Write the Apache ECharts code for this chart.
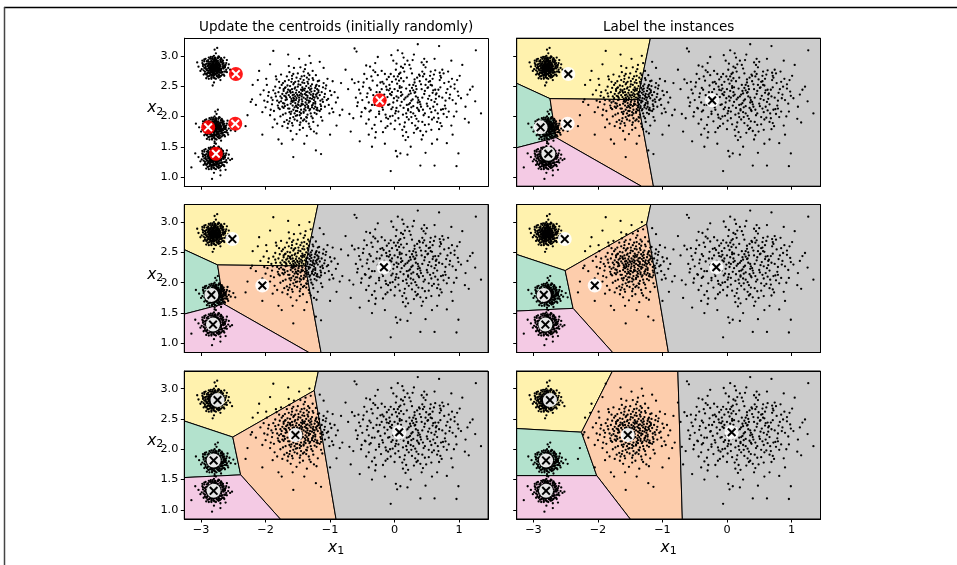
<!DOCTYPE html>
<html><head><meta charset="utf-8">
<script src="https://cdn.jsdelivr.net/npm/echarts@6/dist/echarts.min.js"></script>
<style>html,body{margin:0;padding:0;background:#fff}#c{width:957px;height:565px}</style>
</head><body><div id="c"></div><script>
// ---------------- data ----------------
const xRange = [-3.26, 1.45];
const yRange = [0.85, 3.29];
const xTickValues = [-3, -2, -1, 0, 1];
const yTickValues = [1.0, 1.5, 2.0, 2.5, 3.0];
const panelTitles = ['Update the centroids (initially randomly)', 'Label the instances'];

const blobTopLeft = [[-2.79,2.80],[-2.72,2.85],[-2.86,2.76],[-2.81,2.91],[-2.75,2.71],[-2.90,2.83],[-2.68,2.79],[-2.83,2.69],[-2.77,2.88],[-2.94,2.74],
[-2.70,2.93],[-2.85,2.84],[-2.78,2.75],[-2.63,2.82],[-2.88,2.97],[-2.74,2.66],[-2.82,2.79],[-2.97,2.86],[-2.69,2.72],[-2.80,3.00],
[-2.76,2.82],[-2.91,2.70],[-2.73,2.89],[-2.84,2.62],[-2.66,2.87],[-2.79,2.94],[-2.87,2.79],[-2.71,2.77],[-2.95,2.91],[-2.77,2.70],
[-2.83,2.86],[-2.62,2.74],[-2.89,2.66],[-2.74,2.96],[-2.81,2.73],[-2.67,2.91],[-2.93,2.80],[-2.78,2.84],[-2.86,2.90],[-2.72,2.68],
[-2.80,2.77],[-2.99,2.78],[-2.70,2.83],[-2.85,2.73],[-2.76,2.91],[-2.58,2.80],[-2.82,2.95],[-2.91,2.87],[-2.73,2.75],[-2.79,2.63],
[-2.88,2.81],[-2.65,2.69],[-2.77,3.04],[-2.84,2.78],[-2.71,2.86],[-2.96,2.69],[-2.75,2.80],[-2.81,2.87],[-2.68,2.94],[-2.90,2.76],
[-2.74,2.72],[-2.83,2.83],[-2.61,2.88],[-2.87,2.71],[-2.78,2.92],[-2.93,2.95],[-2.69,2.76],[-2.80,2.68],[-2.76,2.86],[-2.85,2.98],
[-3.04,2.82],[-2.72,2.81],[-2.82,2.74],[-2.55,2.77],[-2.89,2.90],[-2.77,2.78],[-2.64,2.84],[-2.84,2.67],[-2.79,3.10],[-2.70,2.60],
[-2.92,2.63],[-2.73,2.99],[-2.86,2.87],[-2.67,2.73],[-2.81,2.82],[-2.98,2.92],[-2.75,2.87],[-2.80,2.56],[-2.60,2.93],[-2.88,2.75],
[-2.71,2.79],[-2.83,2.90],[-2.76,2.74],[-2.94,2.85],[-2.66,2.81],[-2.78,2.97],[-2.85,2.80],[-2.73,2.64],[-2.57,2.86],[-3.01,2.75],
[-2.75,3.13],[-2.64,2.97],[-2.82,2.51],[-2.52,2.71],[-3.06,2.89],
[-2.78,2.81],[-2.80,2.79],[-2.76,2.83],[-2.82,2.77],[-2.79,2.85],[-2.74,2.78],[-2.84,2.82],[-2.77,2.74],[-2.81,2.84],[-2.75,2.76],
[-2.83,2.80],[-2.78,2.87],[-2.72,2.80],[-2.86,2.78],[-2.80,2.72],[-2.76,2.89],[-2.73,2.84],[-2.85,2.74],[-2.79,2.77],[-2.81,2.80],
[-2.77,2.82],[-2.82,2.86],[-2.75,2.73],[-2.88,2.85],[-2.71,2.75],[-2.80,2.83],[-2.78,2.70],[-2.84,2.76],[-2.74,2.86],[-2.87,2.81],
[-2.76,2.79],[-2.79,2.90],[-2.83,2.73],[-2.70,2.82],[-2.81,2.76],[-2.77,2.85],[-2.86,2.83],[-2.73,2.77],[-2.80,2.86],[-2.75,2.83],
[-2.82,2.71],[-2.78,2.78],[-2.89,2.79],[-2.72,2.87],[-2.84,2.85],[-2.76,2.72],[-2.79,2.82],[-2.83,2.88],[-2.74,2.81],[-2.81,2.74],
[-2.77,2.76],[-2.85,2.80],[-2.71,2.84],[-2.80,2.81],[-2.78,2.92],[-2.88,2.72],[-2.73,2.79],[-2.82,2.83],[-2.76,2.85],[-2.79,2.75],
[-2.69,2.78],[-2.84,2.79],[-2.75,2.90],[-2.87,2.87],[-2.80,2.70],[-2.77,2.80],[-2.83,2.77],[-2.74,2.74],[-2.81,2.89],[-2.72,2.83],
[-2.95,2.80],[-2.63,2.81],[-2.79,2.96],[-2.80,2.64],[-2.91,2.91],[-2.67,2.69],[-2.92,2.69],[-2.66,2.92],[-2.86,2.95],[-2.71,2.65],
[-2.97,2.83],[-2.61,2.77],[-2.84,2.64],[-2.74,2.97],[-2.90,2.72],[-2.68,2.89],[-2.93,2.86],[-2.64,2.74],[-2.82,2.98],[-2.77,2.62],
[-2.96,2.76],[-2.62,2.85],[-2.87,2.67],[-2.70,2.94],[-2.89,2.93],[-2.69,2.67],[-2.94,2.71],[-2.65,2.88],[-2.75,2.66],[-2.83,2.95],
[-2.98,2.88],[-2.60,2.73],[-2.88,2.62],[-2.72,2.98],[-2.92,2.78],[-2.66,2.83],[-2.81,2.65],[-2.78,2.96],[-2.95,2.94],[-2.64,2.67],
[-2.86,2.71],[-2.70,2.90],[-2.89,2.84],[-2.68,2.73],[-2.84,2.92],[-2.73,2.69],[-2.91,2.76],[-2.67,2.86],[-2.80,2.93],[-2.76,2.67],
[-2.88,2.87],[-2.71,2.72],[-2.85,2.69],[-2.74,2.92],[-2.93,2.82],[-2.65,2.79],[-2.82,2.68],[-2.77,2.94],[-2.90,2.66],[-2.69,2.96]];

const blobMidLeft = [[-2.78,1.80],[-2.71,1.84],[-2.85,1.76],[-2.80,1.91],[-2.74,1.71],[-2.89,1.83],[-2.67,1.79],[-2.82,1.69],[-2.76,1.88],[-2.93,1.74],
[-2.69,1.93],[-2.84,1.84],[-2.77,1.75],[-2.62,1.82],[-2.87,1.97],[-2.73,1.66],[-2.81,1.79],[-2.96,1.86],[-2.68,1.72],[-2.79,2.00],
[-2.75,1.82],[-2.90,1.70],[-2.72,1.89],[-2.83,1.62],[-2.65,1.87],[-2.78,1.94],[-2.86,1.79],[-2.70,1.77],[-2.94,1.91],[-2.76,1.70],
[-2.82,1.86],[-2.61,1.74],[-2.88,1.66],[-2.73,1.96],[-2.80,1.73],[-2.66,1.91],[-2.92,1.80],[-2.77,1.84],[-2.85,1.90],[-2.71,1.68],
[-2.79,1.77],[-2.98,1.78],[-2.69,1.83],[-2.84,1.73],[-2.75,1.91],[-2.57,1.80],[-2.81,1.95],[-2.90,1.87],[-2.72,1.75],[-2.78,1.63],
[-2.87,1.81],[-2.64,1.69],[-2.76,2.04],[-2.83,1.78],[-2.70,1.86],[-2.95,1.69],[-2.74,1.80],[-2.80,1.87],[-2.67,1.94],[-2.89,1.76],
[-2.73,1.72],[-2.82,1.83],[-2.60,1.88],[-2.86,1.71],[-2.77,1.92],[-2.92,1.95],[-2.68,1.76],[-2.79,1.68],[-2.75,1.86],[-2.84,1.98],
[-3.03,1.82],[-2.71,1.81],[-2.81,1.74],[-2.54,1.77],[-2.88,1.90],[-2.76,1.78],[-2.63,1.84],[-2.83,1.67],[-2.78,2.08],[-2.69,1.60],
[-2.91,1.63],[-2.72,1.99],[-2.85,1.87],[-2.66,1.73],[-2.80,1.82],[-2.97,1.92],[-2.74,1.87],[-2.79,1.56],[-2.59,1.93],[-2.87,1.75],
[-2.70,1.79],[-2.82,1.90],[-2.75,1.74],[-2.93,1.85],[-2.65,1.81],[-2.77,1.97],[-2.84,1.80],[-2.72,1.64],[-2.56,1.86],[-3.00,1.75],
[-2.50,1.83],[-2.47,1.76],[-2.58,1.70],[-3.08,1.88],[-2.74,2.11],
[-2.77,1.81],[-2.79,1.78],[-2.75,1.84],[-2.81,1.76],[-2.78,1.86],[-2.73,1.79],[-2.83,1.83],[-2.76,1.73],[-2.80,1.85],[-2.74,1.75],
[-2.82,1.80],[-2.77,1.88],[-2.71,1.81],[-2.85,1.77],[-2.79,1.71],[-2.75,1.90],[-2.72,1.85],[-2.84,1.75],[-2.78,1.78],[-2.80,1.81],
[-2.76,1.83],[-2.81,1.87],[-2.74,1.72],[-2.87,1.86],[-2.70,1.76],[-2.79,1.84],[-2.77,1.69],[-2.83,1.77],[-2.73,1.87],[-2.86,1.82],
[-2.75,1.80],[-2.78,1.91],[-2.82,1.74],[-2.69,1.83],[-2.80,1.77],[-2.76,1.86],[-2.85,1.84],[-2.72,1.78],[-2.79,1.87],[-2.74,1.84],
[-2.81,1.70],[-2.77,1.79],[-2.88,1.80],[-2.71,1.88],[-2.83,1.86],[-2.75,1.71],[-2.78,1.83],[-2.82,1.89],[-2.73,1.82],[-2.80,1.75],
[-2.76,1.77],[-2.84,1.81],[-2.70,1.85],[-2.79,1.82],[-2.77,1.93],[-2.87,1.73],[-2.72,1.80],[-2.81,1.84],[-2.75,1.86],[-2.78,1.76],
[-2.68,1.79],[-2.83,1.80],[-2.74,1.91],[-2.86,1.88],[-2.79,1.69],[-2.76,1.81],[-2.82,1.78],[-2.73,1.75],[-2.80,1.90],[-2.71,1.84],
[-2.66,1.77],[-2.64,1.83],[-2.68,1.72],[-2.62,1.79],
[-2.94,1.80],[-2.62,1.81],[-2.78,1.96],[-2.79,1.64],[-2.90,1.91],[-2.66,1.69],[-2.91,1.69],[-2.65,1.92],[-2.85,1.95],[-2.70,1.65],
[-2.96,1.83],[-2.60,1.77],[-2.83,1.64],[-2.73,1.97],[-2.89,1.72],[-2.67,1.89],[-2.92,1.86],[-2.63,1.74],[-2.81,1.98],[-2.76,1.62],
[-2.95,1.76],[-2.61,1.85],[-2.86,1.67],[-2.69,1.94],[-2.88,1.93],[-2.68,1.67],[-2.93,1.71],[-2.64,1.88],[-2.74,1.66],[-2.82,1.95],
[-2.97,1.88],[-2.59,1.73],[-2.87,1.62],[-2.71,1.98],[-2.91,1.78],[-2.65,1.83],[-2.80,1.65],[-2.77,1.96],[-2.94,1.94],[-2.63,1.67],
[-2.85,1.71],[-2.69,1.90],[-2.88,1.84],[-2.67,1.73],[-2.83,1.92],[-2.72,1.69],[-2.90,1.76],[-2.66,1.86],[-2.79,1.93],[-2.75,1.67],
[-2.87,1.87],[-2.70,1.72],[-2.84,1.69],[-2.73,1.92],[-2.92,1.82],[-2.64,1.79],[-2.81,1.68],[-2.76,1.94],[-2.89,1.66],[-2.68,1.96]];

const blobBottomLeft = [[-2.79,1.31],[-2.72,1.35],[-2.86,1.27],[-2.81,1.42],[-2.75,1.22],[-2.90,1.34],[-2.68,1.30],[-2.83,1.20],[-2.77,1.39],[-2.94,1.25],
[-2.70,1.44],[-2.85,1.35],[-2.78,1.26],[-2.63,1.33],[-2.88,1.48],[-2.74,1.17],[-2.82,1.30],[-2.97,1.37],[-2.69,1.23],[-2.80,1.51],
[-2.76,1.33],[-2.91,1.21],[-2.73,1.40],[-2.84,1.13],[-2.66,1.38],[-2.79,1.45],[-2.87,1.30],[-2.71,1.28],[-2.95,1.42],[-2.77,1.21],
[-2.83,1.37],[-2.62,1.25],[-2.89,1.17],[-2.74,1.47],[-2.81,1.24],[-2.67,1.42],[-2.93,1.31],[-2.78,1.35],[-2.86,1.41],[-2.72,1.19],
[-2.80,1.28],[-2.99,1.29],[-2.70,1.34],[-2.85,1.24],[-2.76,1.42],[-2.58,1.31],[-2.82,1.46],[-2.91,1.38],[-2.73,1.26],[-2.79,1.14],
[-2.88,1.32],[-2.65,1.20],[-2.77,1.55],[-2.84,1.29],[-2.71,1.37],[-2.96,1.20],[-2.75,1.31],[-2.81,1.38],[-2.68,1.45],[-2.90,1.27],
[-2.74,1.23],[-2.83,1.34],[-2.61,1.39],[-2.87,1.22],[-2.78,1.43],[-2.93,1.46],[-2.69,1.27],[-2.80,1.19],[-2.76,1.37],[-2.85,1.49],
[-3.04,1.33],[-2.72,1.32],[-2.82,1.25],[-2.55,1.28],[-2.89,1.41],[-2.77,1.29],[-2.64,1.35],[-2.84,1.18],[-2.79,1.59],[-2.70,1.11],
[-2.92,1.14],[-2.73,1.50],[-2.86,1.38],[-2.67,1.24],[-2.81,1.33],[-2.98,1.43],[-2.75,1.38],[-2.80,1.07],[-2.60,1.44],[-2.88,1.26],
[-2.71,1.30],[-2.83,1.41],[-2.76,1.25],[-2.94,1.36],[-2.66,1.32],[-2.78,1.48],[-2.85,1.31],[-2.73,1.15],[-2.57,1.37],[-3.01,1.26],
[-3.15,1.16],[-2.83,0.97],[-2.52,1.30],[-3.09,1.39],[-2.70,1.03],[-2.62,1.12],
[-2.78,1.32],[-2.80,1.29],[-2.76,1.35],[-2.82,1.27],[-2.79,1.37],[-2.74,1.30],[-2.84,1.34],[-2.77,1.24],[-2.81,1.36],[-2.75,1.26],
[-2.83,1.31],[-2.78,1.39],[-2.72,1.32],[-2.86,1.28],[-2.80,1.22],[-2.76,1.41],[-2.73,1.36],[-2.85,1.26],[-2.79,1.29],[-2.81,1.32],
[-2.77,1.34],[-2.82,1.38],[-2.75,1.23],[-2.88,1.37],[-2.71,1.27],[-2.80,1.35],[-2.78,1.20],[-2.84,1.28],[-2.74,1.38],[-2.87,1.33],
[-2.76,1.31],[-2.79,1.42],[-2.83,1.25],[-2.70,1.34],[-2.81,1.28],[-2.77,1.37],[-2.86,1.35],[-2.73,1.29],[-2.80,1.38],[-2.75,1.35],
[-2.82,1.21],[-2.78,1.30],[-2.89,1.31],[-2.72,1.39],[-2.84,1.37],[-2.76,1.22],[-2.79,1.34],[-2.83,1.40],[-2.74,1.33],[-2.81,1.26],
[-2.77,1.27],[-2.85,1.32],[-2.71,1.36],[-2.80,1.33],[-2.78,1.44],[-2.88,1.24],[-2.73,1.31],[-2.82,1.35],[-2.76,1.37],[-2.79,1.27],
[-2.69,1.30],[-2.84,1.31],[-2.75,1.42],[-2.87,1.39],[-2.80,1.21],[-2.77,1.32],[-2.83,1.29],[-2.74,1.26],[-2.81,1.41],[-2.72,1.35],
[-2.95,1.31],[-2.63,1.32],[-2.79,1.47],[-2.80,1.15],[-2.91,1.42],[-2.67,1.20],[-2.92,1.20],[-2.66,1.43],[-2.86,1.46],[-2.71,1.16],
[-2.97,1.34],[-2.61,1.28],[-2.84,1.15],[-2.74,1.48],[-2.90,1.23],[-2.68,1.40],[-2.93,1.37],[-2.64,1.25],[-2.82,1.49],[-2.77,1.13],
[-2.96,1.27],[-2.62,1.36],[-2.87,1.18],[-2.70,1.45],[-2.89,1.44],[-2.69,1.18],[-2.94,1.22],[-2.65,1.39],[-2.75,1.17],[-2.83,1.46],
[-2.98,1.39],[-2.60,1.24],[-2.88,1.13],[-2.72,1.49],[-2.92,1.29],[-2.66,1.34],[-2.81,1.16],[-2.78,1.47],[-2.95,1.45],[-2.64,1.18],
[-2.86,1.22],[-2.70,1.41],[-2.89,1.35],[-2.68,1.24],[-2.84,1.43],[-2.73,1.20],[-2.91,1.27],[-2.67,1.37],[-2.80,1.44],[-2.76,1.18],
[-2.88,1.38],[-2.71,1.23],[-2.85,1.20],[-2.74,1.43],[-2.93,1.33],[-2.65,1.30],[-2.82,1.19],[-2.77,1.45],[-2.90,1.17],[-2.69,1.47]];

const blobMiddle = [[-1.48,2.27],[-1.62,2.41],[-1.31,2.12],[-1.55,2.05],[-1.20,2.38],[-1.73,2.22],[-1.40,2.55],[-1.28,2.29],[-1.58,2.18],[-1.36,1.98],
[-1.45,2.44],[-1.08,2.16],[-1.84,2.33],[-1.51,2.09],[-1.33,2.61],[-1.67,1.94],[-1.19,1.85],[-1.50,2.71],[-0.98,2.35],[-1.79,2.57],
[-1.42,2.20],[-1.27,2.75],[-1.56,2.36],[-1.14,1.99],[-1.61,1.76],[-1.70,2.47],[-1.35,2.31],[-0.91,2.23],[-1.92,2.11],[-1.38,2.15],
[-1.52,2.30],[-1.17,2.59],[-1.65,1.88],[-1.30,2.88],[-1.11,2.48],[-1.47,2.02],[-1.32,1.83],[-1.86,1.95],[-1.59,2.62],[-1.24,2.42],
[-1.53,2.39],[-2.02,2.26],[-1.41,2.06],[-1.71,2.34],[-1.23,2.21],[-1.44,2.66],[-1.63,2.13],[-1.37,2.50],[-1.88,2.43],[-1.26,1.91],
[-1.49,2.24],[-1.76,2.69],[-1.34,2.17],[-1.05,2.27],[-1.57,1.99],[-1.39,2.78],[-1.69,2.05],[-1.21,2.33],[-1.98,2.52],[-1.46,1.90],
[-1.29,2.46],[-1.54,2.57],[-1.16,2.09],[-1.81,2.18],[-1.43,2.36],[-1.60,2.29],[-1.25,1.75],[-1.74,1.84],[-1.36,2.64],[-1.50,2.14],
[-0.95,2.07],[-1.66,2.51],[-1.40,1.95],[-1.13,2.40],[-1.89,2.27],[-1.55,2.46],[-1.31,2.25],[-1.77,2.00],[-1.22,2.68],[-1.47,2.35],
[-1.64,2.83],[-1.35,2.03],[-2.08,2.36],[-1.27,2.19],[-1.58,1.85],[-1.10,2.55],[-1.43,2.48],[-1.72,2.14],[-1.19,2.30],[-1.52,1.71],
[-1.37,2.40],[-1.83,2.61],[-1.61,2.21],[-1.28,2.53],[-1.02,2.19],[-1.46,2.81],[-1.68,2.38],[-1.33,1.88],[-1.93,2.02],[-1.15,2.26],
[-1.56,2.26],[-1.41,2.60],[-1.75,2.30],[-1.24,2.06],[-1.50,2.49],[-2.15,2.19],[-1.30,2.36],[-1.62,1.97],[-1.07,2.46],[-1.45,2.11],
[-1.80,2.40],[-1.38,2.23],[-1.20,2.14],[-1.67,2.66],[-1.53,2.01],[-1.34,2.71],[-1.90,2.20],[-1.26,2.37],[-1.59,2.45],[-1.12,1.93],
[-1.44,2.28],[-1.71,1.91],[-0.88,2.31],[-1.49,2.58],[-1.32,2.10],[-1.85,2.49],[-1.60,2.08],[-1.22,2.50],[-1.42,1.81],[-1.76,2.25],
[-1.04,2.62],[-1.54,2.33],[-1.29,2.00],[-1.65,2.44],[-1.39,2.18],[-1.96,2.34],[-1.18,2.43],[-1.48,2.95],[-1.36,1.68],[-1.70,2.17],
[-1.57,2.53],[-1.25,2.27],[-1.82,1.88],[-1.43,2.42],[-1.14,2.17],[-1.63,2.73],[-2.03,2.43],[-1.31,2.44],[-1.51,1.93],[-1.09,2.32],
[-1.74,2.37],[-1.40,2.12],[-1.27,2.63],[-1.58,2.24],[-1.87,2.09],[-1.35,2.34],[-1.66,1.81],[-1.21,2.04],[-1.46,2.52],[-2.21,2.28],
[-1.55,2.15],[-1.00,2.42],[-1.73,2.55],[-1.33,2.26],[-1.61,2.39],[-1.19,2.58],[-1.45,1.97],[-1.91,2.31],[-1.28,2.15],[-1.52,2.64],
[-1.37,1.92],[-1.69,2.27],[-1.11,2.24],[-1.48,2.40],[-1.78,2.12],[-1.23,2.47],[-1.56,2.80],[-1.41,2.31],[-2.00,2.15],[-1.30,1.79],
[-1.64,2.60],[-1.16,2.35],[-1.50,2.20],[-1.84,2.66],[-1.34,2.54],[-1.59,1.89],[-0.97,2.13],[-1.44,2.19],[-1.72,2.45],[-1.26,2.32],
[-1.53,2.09],[-1.38,2.85],[-1.95,2.40],[-1.21,2.11],[-1.62,2.32],[-1.47,1.78],[-1.06,2.51],[-1.79,2.23],[-1.32,2.39],[-1.57,2.70],
[-1.57,1.33],[-1.88,3.08],[-2.31,1.84],[-2.23,2.24],[-2.20,2.52],[-1.14,1.38],[-1.22,1.44],[-1.32,3.00],[-1.16,2.90],[-2.10,2.75],
[-0.85,2.02],[-0.83,2.55],[-1.75,1.55],[-2.05,1.70],[-1.00,1.70],[-1.93,2.86],[-1.65,3.02],[-0.90,1.85],[-2.28,2.02],[-1.40,1.55],
[-1.10,2.80],[-2.12,2.60],[-1.80,1.62],
[-1.44,2.33],[-1.59,2.26],[-1.36,2.20],[-1.52,2.43],[-1.27,2.34],[-1.68,2.31],[-1.41,2.08],[-1.57,2.11],[-1.33,2.47],[-1.62,2.50],
[-1.46,2.17],[-1.23,2.24],[-1.72,2.42],[-1.39,2.37],[-1.54,2.22],[-1.30,2.05],[-1.66,2.19],[-1.49,2.53],[-1.18,2.40],[-1.77,2.33],
[-1.43,2.25],[-1.35,2.57],[-1.61,2.04],[-1.25,2.13],[-1.51,2.36],[-1.70,2.58],[-1.38,2.29],[-1.58,2.40],[-1.29,2.41],[-1.47,2.07],
[-1.64,2.35],[-1.21,2.52],[-1.42,2.45],[-1.55,1.95],[-1.34,2.14],[-1.74,2.16],[-1.48,2.31],[-1.26,2.60],[-1.60,2.25],[-1.40,2.67],
[-1.53,2.18],[-1.15,2.20],[-1.69,2.48],[-1.37,1.99],[-1.45,2.38],[-1.82,2.26],[-1.31,2.30],[-1.56,2.55],[-1.22,2.36],[-1.63,2.07],
[-1.50,2.34],[-1.39,2.46],[-1.28,2.18],[-1.73,2.03],[-1.44,2.21],[-1.59,2.67],[-1.19,2.10],[-1.35,2.41],[-1.67,2.28],[-1.52,2.16],
[-1.41,2.74],[-1.24,2.31],[-1.62,2.43],[-1.47,1.86],[-1.33,2.23],[-1.78,2.47],[-1.56,2.29],[-1.12,2.28],[-1.43,2.56],[-1.65,2.13],
[-1.30,2.50],[-1.51,2.02],[-1.85,2.38],[-1.38,2.10],[-1.20,2.45],[-1.58,2.35],[-1.46,2.62],[-1.71,2.21],[-1.27,1.97],[-1.54,2.48],
[-1.36,2.27],[-1.63,1.92],[-1.08,2.37],[-1.49,2.19],[-1.40,2.43],[-1.75,2.52],[-1.23,2.16],[-1.57,2.31],[-1.32,2.68],[-1.66,2.40],
[-1.45,2.05],[-1.17,2.50],[-1.53,2.27],[-1.80,2.14],[-1.37,2.35],[-1.60,2.57],[-1.26,2.22],[-1.42,1.93],[-1.69,2.33],[-1.14,2.12],
[-1.03,2.29],[-0.93,2.40],[-1.01,2.05],[-0.96,2.58],[-1.97,2.24],[-2.05,2.07],[-1.99,2.62],[-1.89,1.82],[-1.21,1.72],[-1.58,1.62]];

const blobRight = [[0.15,2.28],[-0.12,2.61],[0.45,2.02],[0.08,1.87],[0.63,2.44],[-0.31,2.19],[0.27,2.71],[0.52,2.29],[-0.05,2.12],[0.34,1.96],
[0.11,2.48],[0.72,2.11],[-0.42,2.38],[0.18,2.05],[0.39,2.58],[-0.21,1.92],[0.57,1.78],[0.02,2.77],[0.86,2.36],[-0.36,2.66],
[0.24,2.22],[0.48,2.81],[-0.09,2.43],[0.66,1.91],[0.13,1.68],[-0.27,2.51],[0.31,2.39],[0.95,2.21],[-0.51,2.07],[0.41,2.16],
[0.06,2.31],[0.59,2.62],[-0.18,1.74],[0.28,2.93],[0.77,2.55],[-0.03,2.01],[0.36,1.81],[-0.44,1.88],[0.19,2.64],[0.51,2.47],
[-0.15,2.26],[0.69,2.33],[0.04,2.54],[0.44,1.69],[-0.38,2.82],[0.22,1.95],[0.81,1.99],[-0.06,2.70],[0.55,2.13],[0.10,2.40],
[-0.60,2.31],[0.33,2.50],[0.74,2.77],[-0.24,2.08],[0.16,2.86],[0.46,2.37],[-0.11,1.84],[0.62,2.24],[0.00,2.45],[0.89,2.62],
[-0.33,2.35],[0.26,2.15],[0.58,1.95],[-0.02,2.92],[0.37,2.27],[-0.48,2.56],[0.12,1.78],[0.71,2.48],[-0.16,2.36],[0.43,2.74],
[0.20,2.33],[-0.29,1.99],[0.67,2.05],[0.07,2.59],[0.98,2.41],[-0.08,2.20],[0.30,1.73],[0.53,2.57],[-0.40,2.23],[0.14,2.97],
[0.79,2.26],[-0.20,2.75],[0.38,2.09],[0.01,1.93],[0.61,2.69],[-0.55,2.44],[0.23,2.52],[0.47,1.86],[-0.13,2.49],[0.84,2.08],
[0.09,2.18],[0.35,2.64],[-0.35,1.80],[0.65,2.38],[-0.01,2.30],[0.50,2.90],[0.17,1.61],[-0.45,2.13],[0.73,1.84],[0.29,2.43],
[-0.23,2.40],[1.03,2.30],[0.05,2.66],[0.40,2.20],[-0.66,2.61],[0.56,2.52],[0.21,2.10],[-0.10,1.96],[0.76,2.71],[0.32,2.01],
[-0.04,2.57],[0.60,2.16],[0.25,2.79],[-0.50,2.27],[0.87,2.49],[0.11,2.24],[0.42,2.45],[-0.26,2.68],[0.68,1.97],[0.03,2.14],
[0.54,2.34],[-0.17,2.54],[0.92,2.00],[0.27,1.89],[-0.39,2.47],[0.15,2.74],[0.70,2.60],[-0.07,2.37],[0.45,2.85],[0.19,2.19],
[-0.58,2.17],[0.36,2.31],[0.82,2.45],[-0.14,2.03],[0.08,2.50],[0.57,2.07],[-0.30,2.88],[0.24,2.42],[1.10,2.16],[0.49,1.75],
[-0.02,2.23],[0.64,2.29],[0.13,2.03],[-0.43,2.32],[0.39,2.67],[0.78,2.18],[-0.19,2.15],[0.31,2.56],[0.00,1.79],[0.59,2.39],
[0.18,2.46],[-0.34,2.59],[0.93,2.53],[0.44,2.11],[-0.09,2.65],[0.26,2.26],[0.71,1.89],[-0.52,2.00],[0.10,2.82],[0.50,2.21],
[-0.25,2.30],[0.37,1.92],[0.85,2.30],[0.06,2.08],[0.63,2.76],[-0.12,2.44],[0.22,2.36],[1.17,2.44],[-0.47,2.70],[0.41,2.53],
[0.02,2.61],[0.75,2.12],[-0.37,2.10],[0.29,2.17],[0.55,2.67],[-0.05,2.35],[0.16,1.90],[0.97,2.60],[-0.22,2.22],[0.47,2.42],
[1.34,2.05],[1.26,3.09],[-0.06,1.10],[0.96,1.18],[0.62,1.19],[0.40,1.19],[0.36,3.19],[0.69,3.16],[-0.62,3.12],[-0.59,3.07],
[1.21,2.49],[1.09,1.96],[0.99,1.39],[0.81,1.56],[0.83,2.74],[-0.05,3.01],[0.05,3.09],[-0.35,1.50],[-0.54,1.59],[-0.26,2.98],
[0.09,1.39],[0.02,1.43],[0.25,1.50],[0.04,1.34],[0.20,1.37],[-0.81,2.11],[-0.70,2.04],[-0.56,2.57],[-0.72,2.45],[-0.68,1.75],
[1.05,2.85],[0.90,1.70],[0.58,1.55],[-0.15,1.55],[0.30,3.02],[1.15,1.90],[-0.76,2.77],[0.48,1.40],[-0.40,1.70],[0.88,2.92],
[0.66,1.62],[-0.30,1.65],[1.25,2.25],[0.12,3.04],
[0.17,2.31],[-0.07,2.46],[0.39,2.24],[0.02,2.09],[0.58,2.51],[-0.26,2.29],[0.31,2.61],[0.47,2.05],[0.10,2.34],[0.26,1.99],
[-0.19,2.57],[0.66,2.20],[-0.37,2.44],[0.21,2.12],[0.44,2.66],[-0.13,1.98],[0.53,1.87],[0.07,2.70],[0.80,2.39],[-0.30,2.73],
[0.28,2.28],[0.42,2.89],[-0.04,2.40],[0.61,1.98],[0.18,1.74],[-0.22,2.56],[0.34,2.45],[0.90,2.27],[-0.46,2.14],[0.37,2.11],
[0.04,2.26],[0.55,2.58],[-0.14,1.81],[0.23,2.85],[0.72,2.64],[0.01,2.05],[0.32,1.85],[-0.40,1.95],[0.14,2.58],[0.48,2.52],
[-0.10,2.19],[0.64,2.36],[0.08,2.47],[0.40,1.76],[-0.33,2.76],[0.19,1.99],[0.76,2.04],[-0.01,2.66],[0.51,2.17],[0.12,2.36],
[-0.53,2.38],[0.29,2.52],[0.70,2.72],[-0.18,2.11],[0.13,2.80],[0.43,2.31],[-0.06,1.88],[0.57,2.27],[0.05,2.42],[0.84,2.57],
[-0.28,2.40],[0.22,2.20],[0.53,1.99],[0.03,2.87],[0.33,2.33],[-0.43,2.62],[0.15,1.83],[0.68,2.44],[-0.11,2.32],[0.46,2.70],
[0.25,2.38],[-0.24,2.04],[0.63,2.10],[0.10,2.63],[0.93,2.46],[-0.03,2.15],[0.34,1.79],[0.49,2.61],[-0.35,2.19],[0.20,2.92],
[0.74,2.31],[-0.15,2.70],[0.35,2.14],[0.06,1.97],[0.56,2.74],[-0.49,2.49],[0.27,2.47],[0.43,1.91],[-0.08,2.52],[0.79,2.13],
[0.14,2.14],[0.38,2.69],[-0.31,1.86],[0.60,2.43],[0.03,2.33],[0.46,2.95],[0.21,1.66],[-0.39,2.08],[0.69,1.79],[0.32,2.40],
[-0.20,2.45],[0.99,2.34],[0.09,2.72],[0.36,2.23],[-0.62,2.55],[0.52,2.48],[0.25,2.07],[-0.07,2.00],[0.71,2.67],[0.29,2.05],
[1.01,2.67],[-0.44,2.84],[0.88,1.85],[-0.57,2.23],[1.13,2.36],[0.62,2.95],[-0.29,1.74],[0.42,1.62],[0.96,2.08],[-0.64,1.97]];

// centroids, ordered: top-left, mid-left, middle, bottom-left, right
const centroidsIter1 = [[-2.46,2.70],[-2.89,1.82],[-2.47,1.88],[-2.77,1.385],[-0.23,2.265]];
const centroidsIter2 = [[-2.515,2.72],[-2.84,1.80],[-2.05,1.955],[-2.815,1.31],[-0.165,2.255]];
const centroidsIter3 = [[-2.745,2.81],[-2.805,1.815],[-1.537,2.234],[-2.805,1.315],[0.073,2.28]];

// ---------------- styles / layout ----------------
const regionColors = ['#fff2ae', '#b3e2cd', '#fdcdac', '#f4cae4', '#cccccc'];
const FONT = 'DejaVu Sans';
const colLeft = [184.3, 516.7];
const plotWidth = 303.8;
const rowTop = [38.2, 204.5, 371];
const plotHeight = 148;

const allPoints = [].concat(blobTopLeft, blobMidLeft, blobBottomLeft, blobMiddle, blobRight);

const panels = [
  {regions: null, centroids: centroidsIter1, red: true},
  {regions: centroidsIter1, centroids: centroidsIter1},
  {regions: centroidsIter1, centroids: centroidsIter2},
  {regions: centroidsIter2, centroids: centroidsIter2},
  {regions: centroidsIter2, centroids: centroidsIter3},
  {regions: centroidsIter3, centroids: centroidsIter3}
];

function clipHalf(poly, a, b, c) {
  const out = [];
  for (let k = 0; k < poly.length; k++) {
    const P = poly[k], Q = poly[(k + 1) % poly.length];
    const fp = a * P[0] + b * P[1] - c, fq = a * Q[0] + b * Q[1] - c;
    if (fp <= 0) out.push(P);
    if ((fp < 0 && fq > 0) || (fp > 0 && fq < 0)) {
      const t = fp / (fp - fq);
      out.push([P[0] + t * (Q[0] - P[0]), P[1] + t * (Q[1] - P[1])]);
    }
  }
  return out;
}
function voronoiCells(cs) {
  return cs.map((ci, i) => {
    let poly = [[xRange[0], yRange[0]], [xRange[1], yRange[0]], [xRange[1], yRange[1]], [xRange[0], yRange[1]]];
    cs.forEach((cj, j) => {
      if (j === i) return;
      const a = cj[0] - ci[0], b = cj[1] - ci[1];
      const c = (cj[0] * cj[0] + cj[1] * cj[1] - ci[0] * ci[0] - ci[1] * ci[1]) / 2;
      poly = clipHalf(poly, a, b, c);
    });
    return poly;
  });
}
function fmtX(v) { return v < 0 ? '\u2212' + (-v) : String(v); }
function fmtY(v) { return Number(v).toFixed(1); }

const grids = [], xAxes = [], yAxes = [], series = [];
const nameRich = {
  x: {fontFamily: FONT, fontStyle: 'italic', fontSize: 15.5, color: '#000'},
  s: {fontFamily: FONT, fontSize: 11, color: '#000', padding: [7, 0, 0, 0]}
};
panels.forEach((pn, k) => {
  const row = Math.floor(k / 2), col = k % 2;
  grids.push({left: colLeft[col], top: rowTop[row], width: plotWidth, height: plotHeight, containLabel: false, outerBoundsMode: 'none'});
  xAxes.push({
    gridIndex: k, type: 'value', min: xRange[0], max: xRange[1],
    axisLine: {show: true, onZero: false, lineStyle: {color: '#000', width: 1}},
    axisTick: {show: true, length: 3.5, customValues: xTickValues, lineStyle: {color: '#000', width: 1}},
    axisLabel: {show: row === 2, customValues: xTickValues, formatter: fmtX, margin: 6, color: '#000', fontSize: 11.25, fontFamily: FONT},
    splitLine: {show: false},
    name: row === 2 ? '{x|x}{s|1}' : '', nameLocation: 'middle', nameGap: 20,
    nameTextStyle: {rich: nameRich}
  });
  yAxes.push({
    gridIndex: k, type: 'value', min: yRange[0], max: yRange[1],
    axisLine: {show: true, onZero: false, lineStyle: {color: '#000', width: 1}},
    axisTick: {show: true, length: 3.5, customValues: yTickValues, lineStyle: {color: '#000', width: 1}},
    axisLabel: {show: col === 0, customValues: yTickValues, formatter: fmtY, margin: 6, color: '#000', fontSize: 11.25, fontFamily: FONT},
    splitLine: {show: false},
    name: col === 0 ? '{x|x}{s|2}' : '', nameLocation: 'middle', nameRotate: 0, nameGap: 21, nameMoveOverlap: false,
    nameTextStyle: {rich: nameRich, padding: [0, 0, 8, 0]}
  });
  if (pn.regions) {
    const cells = voronoiCells(pn.regions);
    series.push({
      type: 'custom', xAxisIndex: k, yAxisIndex: k, z: 1, silent: true, animation: false,
      data: pn.regions.map((c, i) => [c[0], c[1], i]), encode: {x: 0, y: 1},
      renderItem: (params, api) => {
        const i = api.value(2);
        return {type: 'polygon', shape: {points: cells[i].map(p => api.coord(p))},
          style: {fill: regionColors[i], stroke: '#000', lineWidth: 1}};
      }
    });
  }
  series.push({
    type: 'scatter', xAxisIndex: k, yAxisIndex: k, z: 3, silent: true, animation: false,
    symbol: 'circle', symbolSize: 2.3, itemStyle: {color: '#000', opacity: 1},
    data: allPoints
  });
  series.push({
    type: 'custom', xAxisIndex: k, yAxisIndex: k, z: 4, silent: true, animation: false,
    data: [[xRange[0], yRange[0]]], encode: {x: 0, y: 1},
    renderItem: (params, api) => {
      const a = api.coord([xRange[0], yRange[1]]), b = api.coord([xRange[1], yRange[0]]);
      const s = v => Math.round(v - 0.5) + 0.5;
      return {type: 'rect', shape: {x: s(a[0]), y: s(a[1]), width: Math.round(b[0] - a[0]), height: Math.round(b[1] - a[1])},
        style: {fill: 'none', stroke: '#000', lineWidth: 1}};
    }
  });
  const circleFill = pn.red ? 'rgba(255,0,0,0.9)' : 'rgba(255,255,255,0.9)';
  const crossColor = pn.red ? '#fff' : '#000';
  series.push({
    type: 'custom', xAxisIndex: k, yAxisIndex: k, z: 10, silent: true, animation: false,
    data: pn.centroids, encode: {x: 0, y: 1},
    renderItem: (params, api) => {
      const p = api.coord([api.value(0), api.value(1)]);
      const h = 3.8;
      return {type: 'group', children: [
        {type: 'circle', shape: {cx: p[0], cy: p[1], r: 7}, style: {fill: circleFill}},
        {type: 'line', shape: {x1: p[0] - h, y1: p[1] - h, x2: p[0] + h, y2: p[1] + h}, style: {stroke: crossColor, lineWidth: 2}},
        {type: 'line', shape: {x1: p[0] - h, y1: p[1] + h, x2: p[0] + h, y2: p[1] - h}, style: {stroke: crossColor, lineWidth: 2}}
      ]};
    }
  });
});

const chart = echarts.init(document.getElementById('c'), null, {renderer: 'canvas'});
chart.setOption({
  animation: false,
  backgroundColor: '#fff',
  grid: grids, xAxis: xAxes, yAxis: yAxes, series: series,
  graphic: [
    {type: 'line', silent: true, shape: {x1: 4, y1: 7.5, x2: 957, y2: 7.5}, style: {stroke: '#000', lineWidth: 1.5}},
    {type: 'line', silent: true, shape: {x1: 4.5, y1: 7, x2: 4.5, y2: 565}, style: {stroke: '#444', lineWidth: 1.5}},
    {type: 'text', silent: true, x: colLeft[0] + plotWidth / 2, y: 27, style: {text: panelTitles[0], fill: '#000', font: '13.5px "DejaVu Sans"', align: 'center', verticalAlign: 'middle'}},
    {type: 'text', silent: true, x: colLeft[1] + plotWidth / 2, y: 27, style: {text: panelTitles[1], fill: '#000', font: '13.5px "DejaVu Sans"', align: 'center', verticalAlign: 'middle'}}
  ]
});
</script></body></html>
